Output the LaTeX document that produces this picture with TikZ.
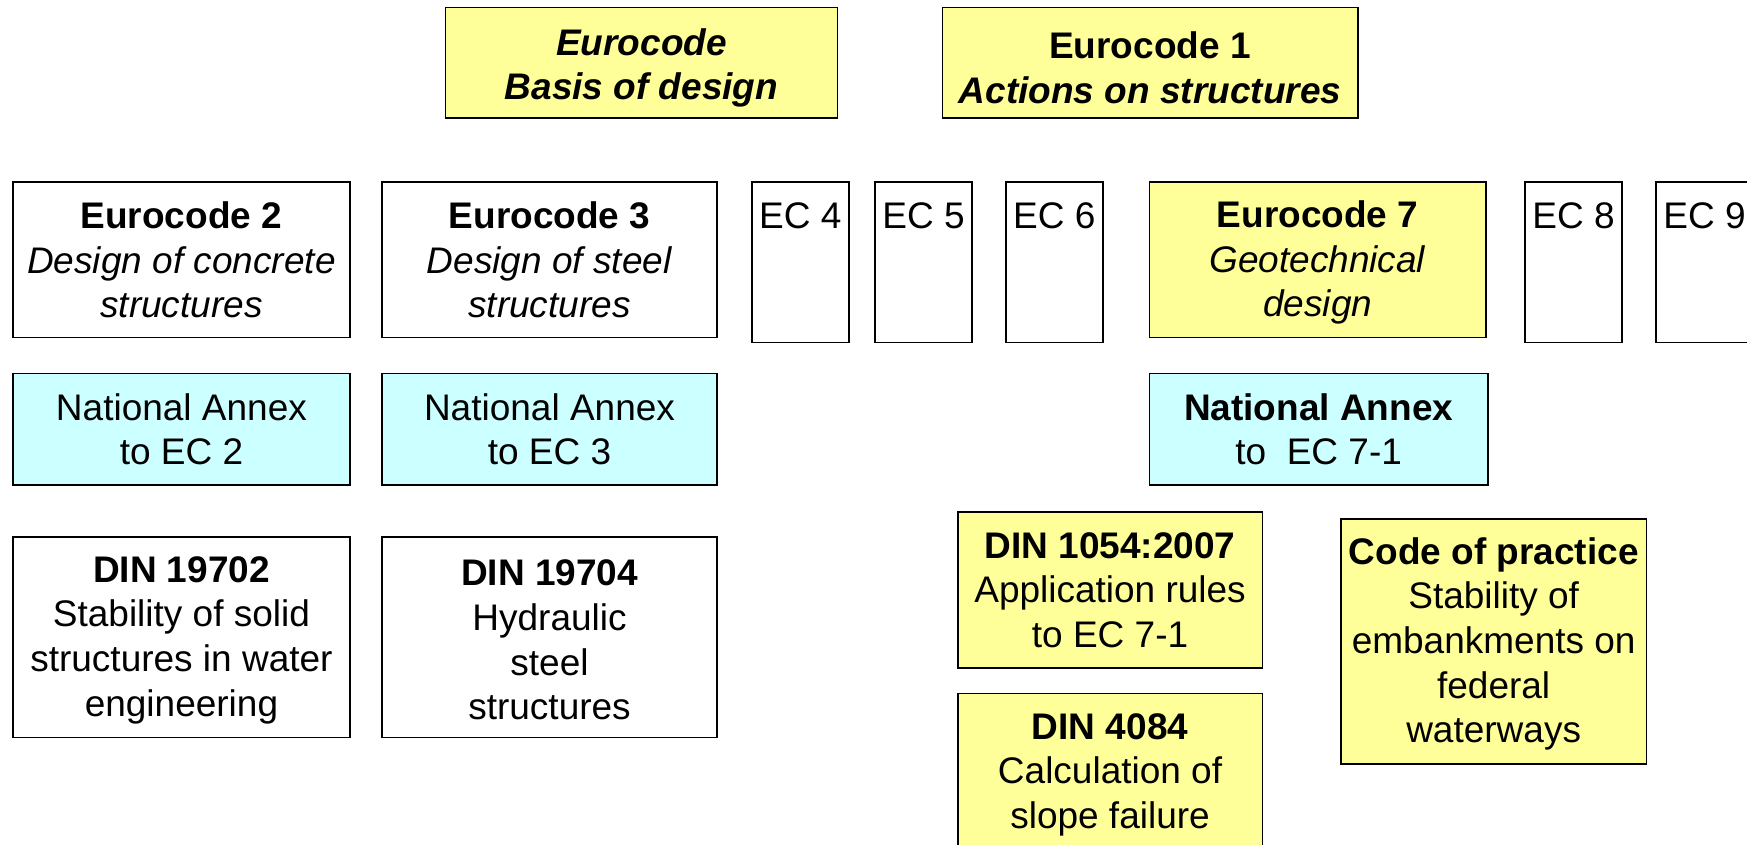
\documentclass[tikz,border=0pt]{standalone}
\usepackage{fontspec}
\setmainfont{Liberation Sans}
\definecolor{boxyellow}{HTML}{FFFF99}
\definecolor{boxcyan}{HTML}{CCFFFF}
\newcommand{\fs}{\fontsize{37}{44.6}\selectfont}
\newcommand{\lowr}[1]{\rule{0pt}{#1}}
\begin{document}
\begin{tikzpicture}[x=1pt,y=1pt,
  box/.style={draw, line width=1.6pt, inner sep=0pt, align=center, font=\fs, anchor=north west},
  yel/.style={box, fill=boxyellow},
  cya/.style={box, fill=boxcyan},
  ecbox/.style={box, minimum width=97pt, minimum height=160.7pt},
  every label/.style={font=\fs, anchor=base, inner sep=0pt, yshift=-48pt}]
\clip (0,0) rectangle (1747,-845);
\fill[white] (0,0) rectangle (1747,-845);
% top row
\node[yel, minimum width=392.2pt, minimum height=110.3pt] (basis) at (444.6,-6.7)
  {\lowr{37pt}\textbf{\textit{Eurocode}}\\\textbf{\textit{Basis of design}}};
\node[yel, minimum width=415.5pt, minimum height=110.3pt] (ec1) at (941.5,-6.7)
  {\lowr{37pt}\textbf{Eurocode 1}\\\textbf{\textit{Actions on structures}}};
% second row
\node[box, minimum width=336.7pt, minimum height=155.2pt] (ec2) at (12.3,-181.5)
  {\textbf{Eurocode 2}\\\textit{Design of concrete}\\\textit{structures}};
\node[box, minimum width=335.4pt, minimum height=155.2pt] (ec3) at (381,-181.5)
  {\textbf{Eurocode 3}\\\textit{Design of steel}\\\textit{structures}};
\node[ecbox, label=north:EC 4] (ec4) at (751,-181) {};
\node[ecbox, label=north:EC 5] (ec5) at (874.3,-181) {};
\node[ecbox, label=north:EC 6] (ec6) at (1005,-181) {};
\node[yel, minimum width=336.3pt, minimum height=155.2pt] (ec7) at (1148.7,-181.5)
  {\lowr{32pt}\textbf{Eurocode 7}\\\textit{Geotechnical}\\\textit{design}};
\node[ecbox, label=north:EC 8] (ec8) at (1524.3,-181) {};
\node[ecbox, label=north:EC 9] (ec9) at (1655.3,-181) {};
% national annexes
\node[cya, minimum width=336.7pt, minimum height=111.6pt] (na2) at (12.3,-372.7)
  {National Annex\\to EC 2};
\node[cya, minimum width=335.4pt, minimum height=111.6pt] (na3) at (381,-372.7)
  {National Annex\\to EC 3};
\node[cya, minimum width=338.3pt, minimum height=111.6pt] (na7) at (1148.7,-372.7)
  {\textbf{National Annex}\\to\ \ EC 7-1};
% DIN standards
\node[box, minimum width=336.7pt, minimum height=200.5pt] (din19702) at (12.3,-536)
  {\lowr{32pt}\textbf{DIN 19702}\\Stability of solid\\structures in water\\engineering};
\node[box, minimum width=335.4pt, minimum height=200.5pt] (din19704) at (381,-536)
  {\lowr{32pt}\textbf{DIN 19704}\\Hydraulic\\steel\\structures};
\node[yel, minimum width=304.5pt, minimum height=156pt] (din1054) at (957,-511.4)
  {\textbf{DIN 1054:2007}\\Application rules\\to EC 7-1};
\node[yel, minimum width=304.5pt, minimum height=156.3pt] (din4084) at (957,-692.7)
  {\lowr{32pt}\textbf{DIN 4084}\\Calculation of\\slope failure};
\node[yel, minimum width=305.7pt, minimum height=245pt] (cop) at (1340,-518)
  {\lowr{32pt}\textbf{Code of practice}\\Stability of\\embankments on\\federal\\waterways};
\end{tikzpicture}
\end{document}
